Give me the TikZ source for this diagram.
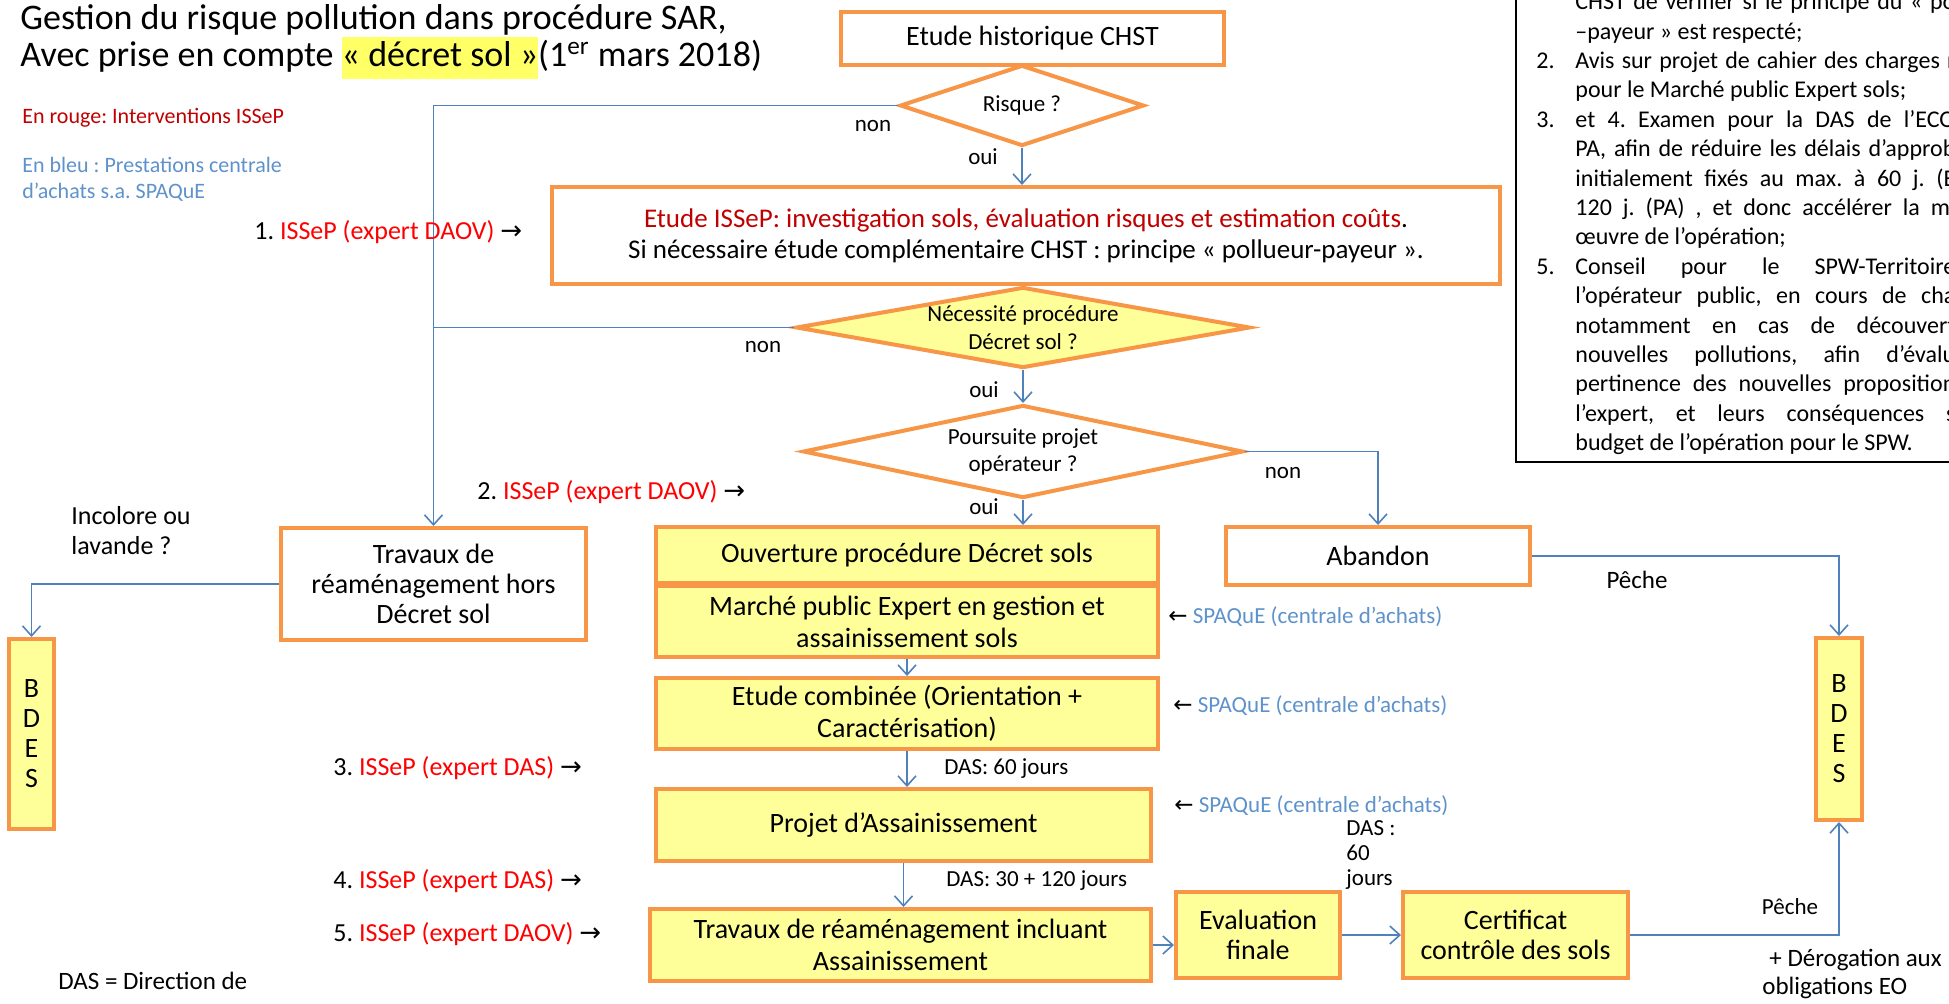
\documentclass[tikz,border=0pt]{standalone}
\usepackage{fontspec}
\setmainfont{Carlito}
\newfontfamily\arrfont{DejaVu Sans}
\usetikzlibrary{shapes.geometric,arrows.meta}
\definecolor{orangeB}{HTML}{F79646}
\definecolor{yellowF}{HTML}{FFFF99}
\definecolor{connB}{HTML}{4F81BD}
\definecolor{redD}{HTML}{C00000}
\definecolor{redL}{HTML}{FF0000}
\definecolor{blueT}{HTML}{5E92CB}
\definecolor{hlY}{HTML}{FFFF66}
\newcommand\fsz[2]{\fontsize{#1}{#2}\selectfont}
\newcommand\rarr{{\arrfont →}}
\newcommand\larr{{\arrfont ←}}
\newcommand\hlb[1]{{\setlength{\fboxsep}{0pt}\colorbox{hlY}{\strut #1}}}
\newcommand\jline[1]{\makebox[190pt][s]{#1}}
\frenchspacing
\begin{document}
\begin{tikzpicture}[x=0.5pt,y=-0.5pt,
  box/.style={draw=orangeB, line width=2pt, fill=white, inner sep=1pt, align=center, font=\fsz{14}{16}},
  ybox/.style={box, fill=yellowF},
  dia/.style={diamond, draw=orangeB, line width=2pt, fill=white, inner sep=0pt},
  dtxt/.style={align=center, inner sep=0pt, font=\fsz{11.5}{14}},
  conn/.style={draw=connB, line width=0.8pt, -{Straight Barb[length=5pt,width=9pt,line width=0.8pt]}},
  lin/.style={draw=connB, line width=0.8pt},
  lbl/.style={inner sep=0pt, anchor=mid west},
  clbl/.style={inner sep=0pt, anchor=mid},
  small/.style={font=\fsz{11.5}{14}},
  issep/.style={lbl, font=\fsz{13}{16}},
  spq/.style={lbl, font=\fsz{11.5}{14}},
  note/.style={lbl, font=\fsz{12}{14.7}}
]
\useasboundingbox (0,0) rectangle (1949,1003);

% title and legend
\node[lbl, font=\fsz{18}{21}] (t1) at (20,25) {Gestion du risque pollution dans procédure SAR,};
\node[lbl, font=\fsz{18}{21}] (t2) at (20,62) {Avec prise en compte \hlb{« décret sol »}(1\textsuperscript{er} mars 2018)};
\node[lbl, font=\fsz{11}{13}, text=redD] (leg1) at (22,119) {En rouge: Interventions ISSeP};
\node[lbl, font=\fsz{11}{13}, text=blueT] (leg2) at (22,168) {En bleu : Prestations centrale};
\node[lbl, font=\fsz{11}{13}, text=blueT] (leg3) at (22,194) {d’achats s.a. SPAQuE};

% main flow
\node[box, minimum width=191.5pt, minimum height=26.5pt] (hist) at (1032.5,38.5) {Etude historique CHST};
\node[dia, minimum width=122pt, minimum height=40.5pt] (risque) at (1022,105.5) {};
\node[dtxt] (risquet) at (risque) {Risque ?};
\node[box, minimum width=474pt, minimum height=48.5pt, font=\fsz{13.5}{15.5}] (issep) at (1026,235.5)
  {\textcolor{redD}{Etude ISSeP: investigation sols, évaluation risques et estimation coûts}.\\Si nécessaire étude complémentaire CHST : principe « pollueur-payeur ».};
\node[dia, fill=yellowF, minimum width=227pt, minimum height=40.5pt] (nec) at (1023,327.5) {};
\node[dtxt] (nect) at (nec) {Nécessité procédure\\Décret sol ?};
\node[dia, minimum width=220pt, minimum height=46.5pt] (pours) at (1023,451.5) {};
\node[dtxt, font=\fsz{11.5}{13.5}] (ourst) at (pours) {Poursuite projet\\opérateur ?};

\node[box, minimum width=152.5pt, minimum height=56pt, font=\fsz{14}{15}] (trh) at (433.5,584) {Travaux de\\réaménagement hors\\Décret sol};
\node[ybox, minimum width=251pt, minimum height=28pt] (ouv) at (907,555) {Ouverture procédure Décret sols};
\node[ybox, minimum width=251pt, minimum height=35.5pt] (marche) at (907,621.5) {Marché public Expert en gestion et\\assainissement sols};
\node[ybox, minimum width=251pt, minimum height=35.5pt] (combi) at (907,713.5) {Etude combinée (Orientation +\\Caractérisation)};
\node[ybox, minimum width=247.5pt, minimum height=36pt] (projet) at (903.5,825) {Projet d’Assainissement};
\node[ybox, minimum width=250.5pt, minimum height=36pt] (travinc) at (900.5,945) {Travaux de réaménagement incluant\\Assainissement};
\node[ybox, minimum width=82pt, minimum height=43pt, font=\fsz{14}{15}] (evalf) at (1258,935) {Evaluation\\finale};
\node[ybox, minimum width=112.5pt, minimum height=43pt, font=\fsz{14}{15}] (cert) at (1515.5,935) {Certificat\\contrôle des sols};
\node[box, minimum width=152pt, minimum height=29pt] (aband) at (1378,556) {Abandon};
\node[ybox, minimum width=22.5pt, minimum height=95pt, font=\fsz{14}{15}] (bdesl) at (31.5,734) {B\\D\\E\\S};
\node[ybox, minimum width=23pt, minimum height=91pt, font=\fsz{14}{15}] (bdesr) at (1839,729) {B\\D\\E\\S};

% connectors
\draw[conn] (risque.west) -| (trh.north);
\draw[conn] (risque.south) -- (risque.south |- issep.north);
\draw[lin] (nec.west) -- (nec.west -| trh.north);
\draw[conn] (nec.south) -- (pours.north);
\draw[conn] (pours.east) -| (aband.north);
\draw[conn] (pours.south) -- (pours.south |- ouv.north);
\draw[conn] (marche.south) -- (combi.north);
\draw[conn] (combi.south) -- (combi.south |- projet.north);
\draw[conn] (projet.south) -- (projet.south |- travinc.north);
\draw[conn] (travinc.east) -- (travinc.east -| evalf.west);
\draw[conn] (evalf.east) -- (cert.west);
\draw[conn] (cert.east) -| (bdesr.south);
\draw[conn] (aband.east) -| (bdesr.north);
\draw[conn] (trh.west) -| (bdesl.north);

% connector labels
\node[clbl, small] (non1) at (873,127) {non};
\node[clbl, small] (oui1) at (983,160) {oui};
\node[clbl, small] (non2) at (763,348) {non};
\node[clbl, small] (oui2) at (984,393) {oui};
\node[clbl, small] (non3) at (1283,474) {non};
\node[clbl, small] (oui3) at (984,510) {oui};
\node[lbl, small] (das60) at (944,770) {DAS: 60 jours};
\node[lbl, small] (das150) at (946,882) {DAS: 30 + 120 jours};
\node[lbl, small, align=left, font=\fsz{11.5}{12.5}, anchor=west] (dasf) at (1346,855) {DAS :\\60\\jours};
\node[clbl, font=\fsz{12.5}{15}] (peche1) at (1637,584) {Pêche};
\node[clbl, font=\fsz{11.5}{14}] (peche2) at (1790,910) {Pêche};
\node[lbl, font=\fsz{12.5}{15}] (derog1) at (1769,962) {+ Dérogation aux};
\node[lbl, font=\fsz{12.5}{15}] (derog2) at (1762,990) {obligations EO};
\node[lbl, font=\fsz{13}{15}] (incol1) at (71,520) {Incolore ou};
\node[lbl, font=\fsz{13}{15}] (incol2) at (71,550) {lavande ?};
\node[lbl, font=\fsz{12.5}{15}] (dasdef) at (58,985) {DAS = Direction de};

% ISSeP interventions
\node[issep] (i1) at (254,235) {1. \textcolor{redL}{ISSeP (expert DAOV)} \rarr};
\node[issep] (i2) at (477,495) {2. \textcolor{redL}{ISSeP (expert DAOV)} \rarr};
\node[issep] (i3) at (333,771) {3. \textcolor{redL}{ISSeP (expert DAS)} \rarr};
\node[issep] (i4) at (333,884) {4. \textcolor{redL}{ISSeP (expert DAS)} \rarr};
\node[issep] (i5) at (333,937) {5. \textcolor{redL}{ISSeP (expert DAOV)} \rarr};

% SPAQuE
\node[spq] (s1) at (1168,619) {\larr\ \textcolor{blueT}{SPAQuE (centrale d’achats)}};
\node[spq] (s2) at (1173,708) {\larr\ \textcolor{blueT}{SPAQuE (centrale d’achats)}};
\node[spq] (s3) at (1174,808) {\larr\ \textcolor{blueT}{SPAQuE (centrale d’achats)}};

% notes box
\draw[black, line width=1pt] (1516,-20) rectangle (1990,462);
\node[note] (n1) at (1575,5) {\jline{CHST de vérifier si le principe du « po}};
\node[note] (n2) at (1575,34.4) {–payeur » est respecté;};
\node[note] (m2) at (1536,63.8) {2.};
\node[note] (n3) at (1575,63.8) {\jline{Avis sur projet de cahier des charges r}};
\node[note] (n4) at (1575,93.2) {pour le Marché public Expert sols;};
\node[note] (m3) at (1536,122.6) {3.};
\node[note] (n5) at (1575,122.6) {\jline{et 4. Examen pour la DAS de l’ECO}};
\node[note] (n6) at (1575,152) {\jline{PA, afin de réduire les délais d’approb}};
\node[note] (n7) at (1575,181.4) {\jline{initialement fixés au max. à 60 j. (E}};
\node[note] (n8) at (1575,210.8) {\jline{120 j. (PA) , et donc accélérer la mi}};
\node[note] (n9) at (1575,240.2) {œuvre de l’opération;};
\node[note] (m5) at (1536,269.6) {5.};
\node[note] (n10) at (1575,269.6) {\jline{Conseil pour le SPW-Territoire}};
\node[note] (n11) at (1575,299) {\jline{l’opérateur public, en cours de cha}};
\node[note] (n12) at (1575,328.4) {\jline{notamment en cas de découvert}};
\node[note] (n13) at (1575,357.8) {\jline{nouvelles pollutions, afin d’évalu}};
\node[note] (n14) at (1575,387.2) {\jline{pertinence des nouvelles proposition}};
\node[note] (n15) at (1575,416.6) {\jline{l’expert, et leurs conséquences s}};
\node[note] (n16) at (1575,446) {budget de l’opération pour le SPW.};
\end{tikzpicture}
\end{document}
